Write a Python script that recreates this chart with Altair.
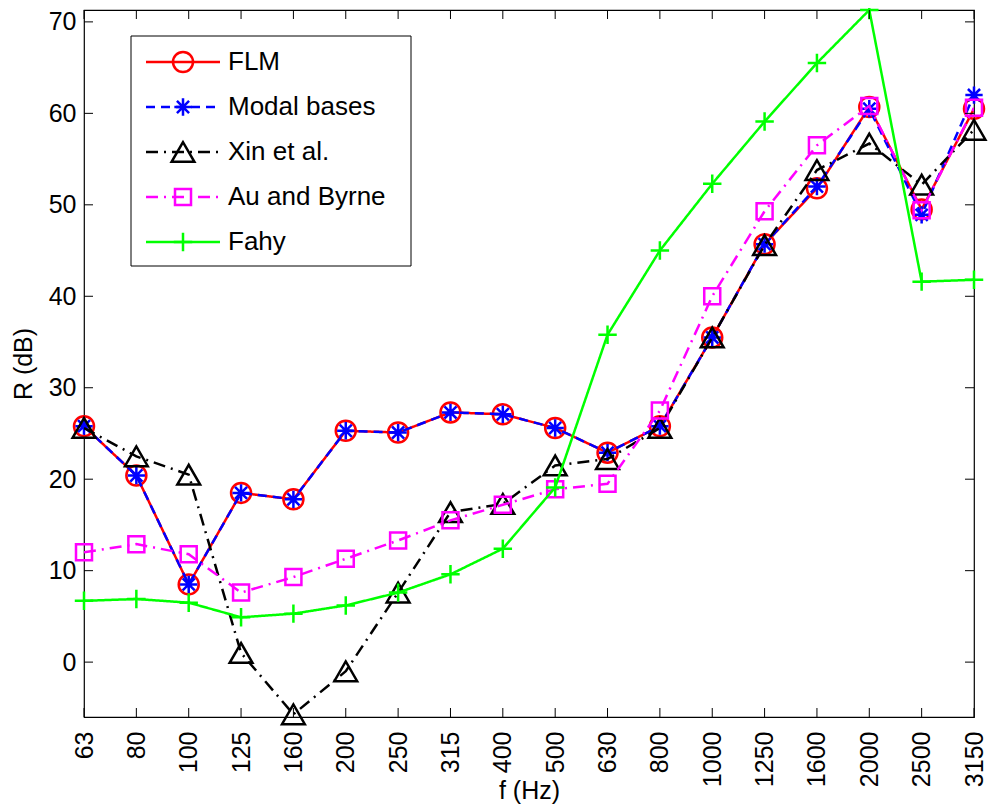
import altair as alt
import pandas as pd

freqs = ["63", "80", "100", "125", "160", "200", "250", "315", "400", "500",
         "630", "800", "1000", "1250", "1600", "2000", "2500", "3150"]
flm = [25.8, 20.4, 8.5, 18.5, 17.8, 25.3, 25.1, 27.3, 27.1, 25.6, 22.9, 25.8,
       35.5, 45.7, 51.8, 60.7, 49.5, 60.5]
modal = [25.8, 20.4, 8.5, 18.5, 17.8, 25.3, 25.1, 27.3, 27.1, 25.6, 22.9, 25.8,
         35.5, 45.7, 52.0, 60.5, 48.9, 62.0]
xin = [25.6, 22.5, 20.5, 1.0, -5.7, -1.0, 7.6, 16.4, 17.3, 21.5, 22.2, 25.6,
       35.5, 45.6, 53.8, 56.7, 52.2, 58.2]
au = [12.0, 12.9, 11.8, 7.6, 9.3, 11.3, 13.3, 15.5, 17.2, 18.9, 19.5, 27.5,
      40.0, 49.3, 56.5, 60.8, 49.4, 60.6]
fahy = [6.7, 6.9, 6.5, 4.9, 5.3, 6.2, 7.6, 9.6, 12.4, 19.1, 35.8, 45.0,
        52.3, 59.1, 65.5, 71.3, 41.6, 41.8]
y_ticks = [0, 10, 20, 30, 40, 50, 60, 70]

series_names = ["FLM", "Modal bases", "Xin et al.", "Au and Byrne", "Fahy"]
series_vals = [flm, modal, xin, au, fahy]

PLUS = "M-1,0L1,0M0,-1L0,1"
STAR = "M-1,0L1,0M0,-1L0,1M-0.7,-0.7L0.7,0.7M-0.7,0.7L0.7,-0.7"
styles = {
    "FLM": dict(color="#ff0000", dash=[1, 0], shape="circle", size=400),
    "Modal bases": dict(color="#0000ff", dash=[9, 6], shape=STAR, size=300),
    "Xin et al.": dict(color="#000000", dash=[12, 6, 2, 6], shape="triangle-up", size=520),
    "Au and Byrne": dict(color="#ff00ff", dash=[12, 6, 2, 6], shape="square", size=256),
    "Fahy": dict(color="#00ff00", dash=[1, 0], shape=PLUS, size=340),
}

rows = []
for name, vals in zip(series_names, series_vals):
    for i, v in enumerate(vals):
        rows.append({"series": name, "idx": i, "val": v})
df = pd.DataFrame(rows)

FONT = "Liberation Sans"
W, H = 890, 707

label_arr = "[" + ",".join("'%s'" % f for f in freqs) + "]"
x_axis = alt.Axis(values=list(range(len(freqs))), labelExpr=label_arr + "[datum.value]",
                  labelAngle=270, labelAlign="right", labelBaseline="middle",
                  labelPadding=14, title="f (Hz)", titleY=81, titleBaseline="alphabetic")
y_axis = alt.Axis(values=y_ticks, labelPadding=8, title="R (dB)", titlePadding=12)
xs = alt.Scale(domain=[0, len(freqs) - 1], nice=False, zero=False)
ys = alt.Scale(domain=[-6.0, 71.3], nice=False, zero=False)
X = alt.X("idx:Q", scale=xs, axis=x_axis)
Y = alt.Y("val:Q", scale=ys, axis=y_axis)

LW = 2.5
layers = []
for name in series_names:
    st = styles[name]
    base = alt.Chart(df).transform_filter(alt.datum.series == name)
    layers.append(base.mark_line(color=st["color"], strokeWidth=LW, strokeDash=st["dash"],
                                 clip=True).encode(x=X, y=Y))
    layers.append(base.mark_point(shape=st["shape"], filled=False, size=st["size"],
                                  strokeWidth=2.5, color=st["color"], opacity=1).encode(x=X, y=Y))

# inward ticks (box style)
xt = pd.DataFrame({"idx": list(range(len(freqs)))})
yt = pd.DataFrame({"val": y_ticks})
TL = 9
layers.append(alt.Chart(xt).mark_rule(color="black", strokeWidth=1).encode(
    x=X, y=alt.value(0), y2=alt.value(TL)))
layers.append(alt.Chart(xt).mark_rule(color="black", strokeWidth=1).encode(
    x=X, y=alt.value(H), y2=alt.value(H - TL)))
layers.append(alt.Chart(yt).mark_rule(color="black", strokeWidth=1).encode(
    y=Y, x=alt.value(0), x2=alt.value(TL)))
layers.append(alt.Chart(yt).mark_rule(color="black", strokeWidth=1).encode(
    y=Y, x=alt.value(W), x2=alt.value(W - TL)))

# legend
one = pd.DataFrame({"k": [0]})
layers.append(alt.Chart(one).mark_rect(fill="white", stroke="black", strokeWidth=1).encode(
    x=alt.value(47), x2=alt.value(327), y=alt.value(26), y2=alt.value(256)))
for i, name in enumerate(series_names):
    st = styles[name]
    yy = 52 + 45 * i
    layers.append(alt.Chart(one).mark_rule(color=st["color"], strokeWidth=LW,
                                           strokeDash=st["dash"]).encode(
        x=alt.value(62), x2=alt.value(136), y=alt.value(yy)))
    layers.append(alt.Chart(one).mark_point(shape=st["shape"], filled=False, size=st["size"],
                                            strokeWidth=2.5, color=st["color"], opacity=1).encode(
        x=alt.value(99), y=alt.value(yy)))
    layers.append(alt.Chart(one).mark_text(align="left", baseline="middle", fontSize=26,
                                           font=FONT, color="black").encode(
        x=alt.value(144), y=alt.value(yy), text=alt.value(name)))

chart = alt.layer(*layers).properties(
    width=W, height=H,
    autosize=alt.AutoSizeParams(type="none"),
    padding={"left": 76, "top": 2, "right": 14, "bottom": 87},
).configure_view(stroke="black", strokeWidth=1.2).configure_axis(
    labelFont=FONT, labelFontSize=25, labelColor="black",
    titleFont=FONT, titleFontSize=25, titleFontWeight="normal", titleColor="black",
    ticks=False, domain=False, grid=False,
)

chart.save("out.html", embed_options={"renderer": "svg", "actions": False})
